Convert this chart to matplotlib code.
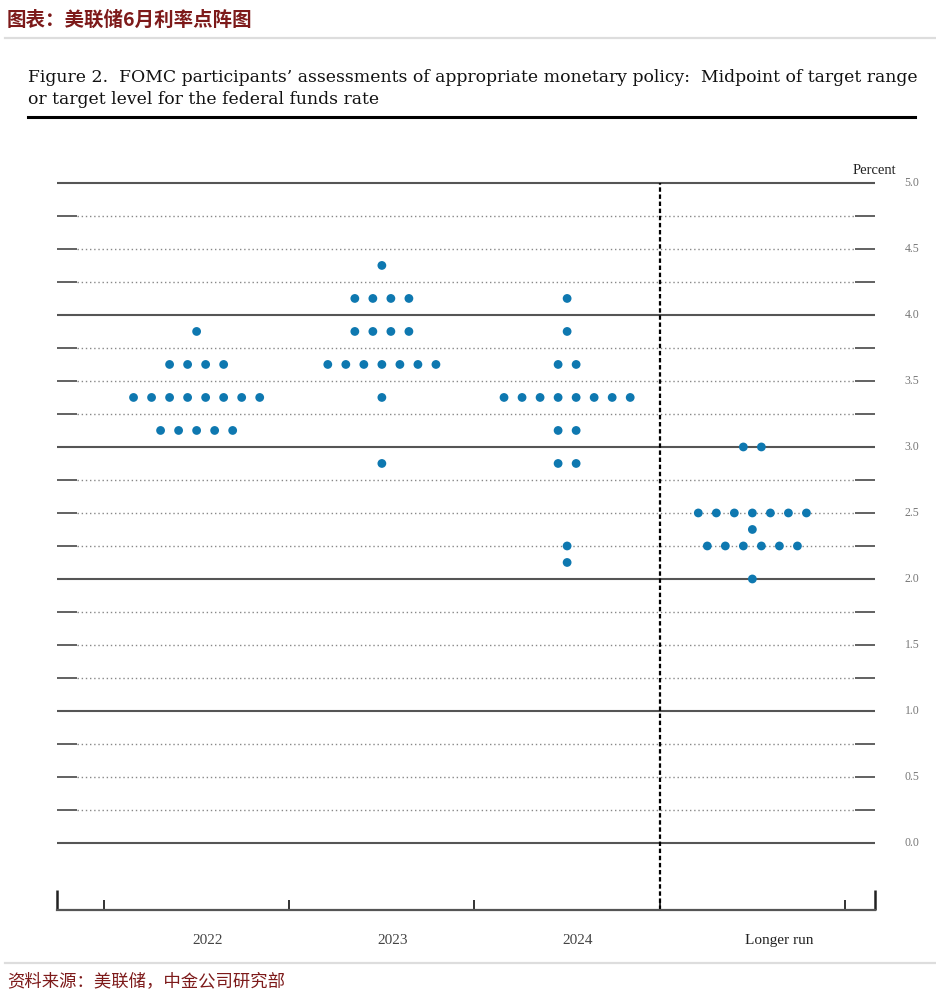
import numpy as np
import matplotlib.pyplot as plt
from matplotlib.lines import Line2D

plt.rcParams['font.family'] = ['Noto Sans CJK SC', 'DejaVu Sans']

# ---- data ----
categories = ['2022', '2023', '2024', 'Longer run']

rates_2022 = [3.875, 3.625, 3.375, 3.125]
counts_2022 = [1, 4, 8, 5]

rates_2023 = [4.375, 4.125, 3.875, 3.625, 3.375, 2.875]
counts_2023 = [1, 4, 4, 7, 1, 1]

rates_2024 = [4.125, 3.875, 3.625, 3.375, 3.125, 2.875, 2.25, 2.125]
counts_2024 = [1, 1, 2, 8, 2, 2, 1, 1]

rates_lr = [3.0, 2.5, 2.375, 2.25, 2.0]
counts_lr = [2, 7, 1, 6, 1]

ytick_labels = ['0.0', '0.5', '1.0', '1.5', '2.0', '2.5', '3.0', '3.5', '4.0', '4.5', '5.0']

DOT = '#0e78b0'
SERIF = ['Liberation Serif', 'DejaVu Serif']
RED = '#7d1a1a'

fig = plt.figure(figsize=(9.37, 10), dpi=100)

# header / footer (Chinese)
fig.text(7/937, 1-20/1000, '图表：美联储6月利率点阵图', fontsize=14, weight='bold',
         color=RED, va='center', ha='left')
fig.add_artist(Line2D([5/937, 1], [1-38/1000]*2, color='#dddddd', lw=1.6))
fig.add_artist(Line2D([5/937, 1], [1-963/1000]*2, color='#dddddd', lw=1.6))
fig.text(7/937, 1-981/1000, '资料来源：美联储，中金公司研究部', fontsize=12.5,
         color=RED, va='center', ha='left')

# figure title, scaled to the line width
line1 = 'Figure 2.  FOMC participants’ assessments of appropriate monetary policy:  Midpoint of target range'
line2 = 'or target level for the federal funds rate'
t1 = fig.text(28/937, 1-78/1000, line1, family='DejaVu Serif', fontsize=12,
              va='center', ha='left', color='#111111')
r = fig.canvas.get_renderer()
w = t1.get_window_extent(r).width
fs = 12 * 887 / w
t1.set_fontsize(fs)
fig.text(28/937, 1-100/1000, line2, family='DejaVu Serif', fontsize=fs,
         va='center', ha='left', color='#111111')
fig.add_artist(Line2D([28/937, 915/937], [1-117/1000]*2, color='black', lw=2.2))

# ---- axes ----
x0, x1 = -0.7537, 3.662
y0, y1 = -0.5076, 5.098
ax = fig.add_axes([57/937, 1-910/1000, (875-57)/937, (910-170)/1000])
ax.set_xlim(x0, x1)
ax.set_ylim(y0, y1)
for s in ['top', 'left', 'right']:
    ax.spines[s].set_visible(False)
ax.spines['bottom'].set_color('#555555')
ax.spines['bottom'].set_linewidth(1.6)
ax.set_yticks([])
ax.set_xticks([-0.5, 0.5, 1.5, 2.5, 3.5])
ax.set_xticklabels([])
ax.tick_params(axis='x', direction='in', length=7, width=1.4, color='#333333')
ax.vlines([x0, x1], y0, y0 + 20/132, color='#222222', lw=1.8, clip_on=False)

# grid
end = 20/185.25
for y in np.arange(0, 5.01, 0.25):
    if abs(y - round(y)) < 1e-9:
        ax.hlines(y, x0, x1, color='#555555', lw=1.5, zorder=1, clip_on=False)
    else:
        ax.hlines(y, x0 + end, x1 - end, color='#888888', lw=1.0,
                  linestyles=(0, (1, 2)), zorder=1)
        ax.hlines(y, x0, x0 + end, color='#555555', lw=1.3, zorder=1)
        ax.hlines(y, x1 - end, x1, color='#555555', lw=1.3, zorder=1)

ax.vlines(2.5, y0, 5.0, color='black', lw=1.6, linestyles=(0, (2, 1.2)), zorder=2)

# dots
spacing = 0.0973
groups = [(rates_2022, counts_2022), (rates_2023, counts_2023),
          (rates_2024, counts_2024), (rates_lr, counts_lr)]
for i, (rates, counts) in enumerate(groups):
    xs, ys = [], []
    for rate, n in zip(rates, counts):
        off = (np.arange(n) - (n - 1) / 2) * spacing
        xs.extend(i + off)
        ys.extend([rate] * n)
    ax.scatter(xs, ys, s=40, color=DOT, edgecolors='none', zorder=3)

# labels
label_off = [0.062, 0.057, 0.059, 0.143]
for i, lab in enumerate(categories):
    ax.text(i + label_off[i], -0.742, lab, ha='center', va='center', family=SERIF,
            fontsize=11, color='#444444' if i < 3 else '#222222', clip_on=False)

for lab in ytick_labels:
    ax.text(x1 + 37/185.25, float(lab), lab, ha='center', va='center', family=SERIF,
            fontsize=8.5, color='#777777', clip_on=False)
fig.text(874/937, 1-170/1000, 'Percent', family=SERIF, fontsize=10.5, ha='center',
         va='center', color='#222222')

fig.savefig('out.png', dpi=100)
